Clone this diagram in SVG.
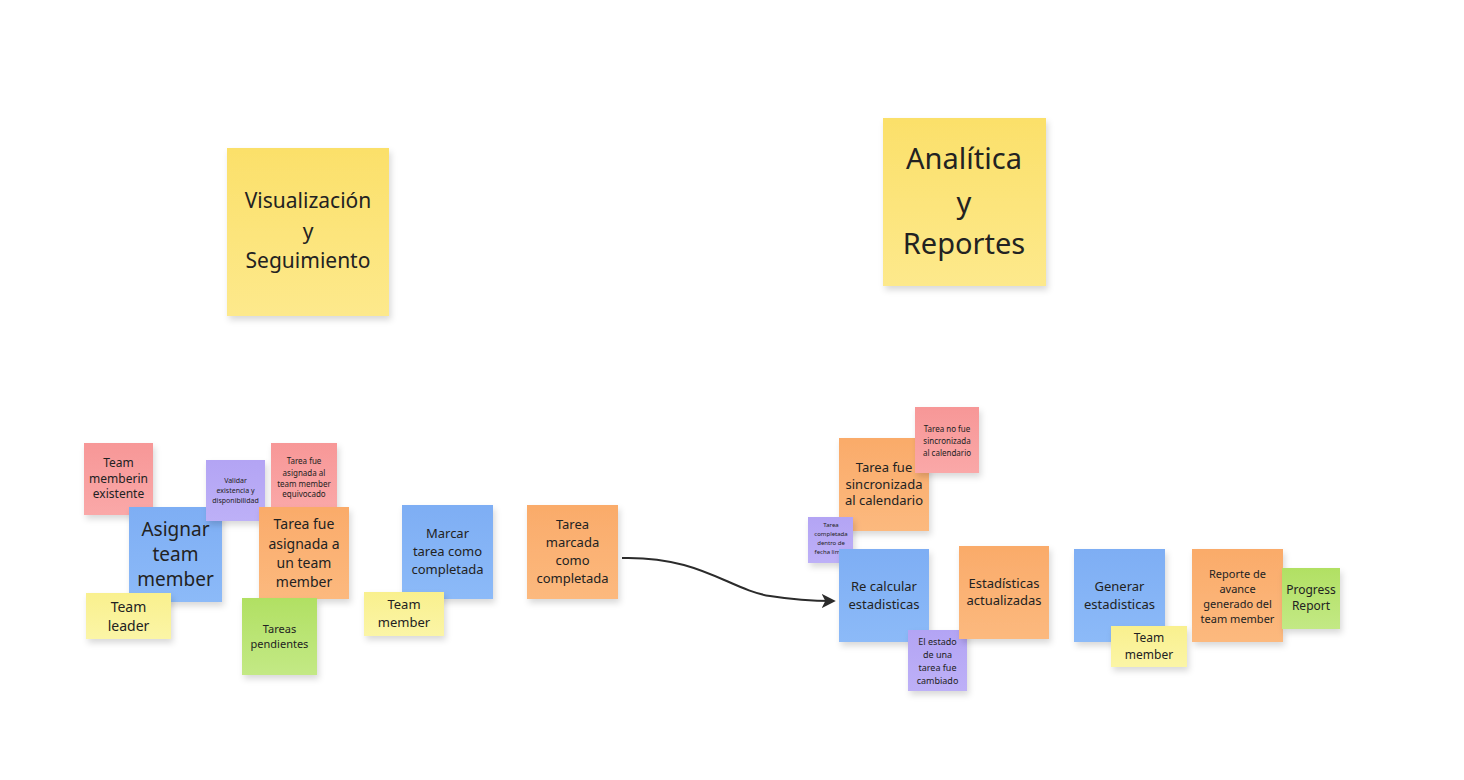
<svg xmlns="http://www.w3.org/2000/svg" width="1464" height="780" viewBox="0 0 1464 780">
<defs>
<linearGradient id="gY" x1="0" y1="0" x2="0" y2="1"><stop offset="0" stop-color="#fbe06a"/><stop offset="1" stop-color="#fde98c"/></linearGradient>
<linearGradient id="gLY" x1="0" y1="0" x2="0" y2="1"><stop offset="0" stop-color="#f9f08e"/><stop offset="1" stop-color="#fbf5a6"/></linearGradient>
<linearGradient id="gR" x1="0" y1="0" x2="0" y2="1"><stop offset="0" stop-color="#f79797"/><stop offset="1" stop-color="#faa8a8"/></linearGradient>
<linearGradient id="gB" x1="0" y1="0" x2="0" y2="1"><stop offset="0" stop-color="#7eaef4"/><stop offset="1" stop-color="#8cbaf8"/></linearGradient>
<linearGradient id="gP" x1="0" y1="0" x2="0" y2="1"><stop offset="0" stop-color="#b3a4f4"/><stop offset="1" stop-color="#bdb0f7"/></linearGradient>
<linearGradient id="gO" x1="0" y1="0" x2="0" y2="1"><stop offset="0" stop-color="#faab6a"/><stop offset="1" stop-color="#fcb97e"/></linearGradient>
<linearGradient id="gG" x1="0" y1="0" x2="0" y2="1"><stop offset="0" stop-color="#b1e063"/><stop offset="1" stop-color="#c3e985"/></linearGradient>
<filter id="sh" x="-20%" y="-20%" width="150%" height="150%"><feDropShadow dx="2" dy="4" stdDeviation="3" flood-color="#000" flood-opacity="0.15"/></filter>
<marker id="arr" viewBox="0 0 10 10" refX="8" refY="5" markerWidth="7" markerHeight="7" orient="auto" markerUnits="strokeWidth"><path d="M0,0 L10,5 L0,10 L2.5,5 z" fill="#2b2b2b"/></marker>
</defs>
<style>
text{font-family:"Noto Sans","Open Sans","DejaVu Sans",sans-serif;fill:#222222;text-anchor:middle;dominant-baseline:central}
rect{filter:url(#sh)}
.y{fill:url(#gY)}.ly{fill:url(#gLY)}.r{fill:url(#gR)}.b{fill:url(#gB)}.p{fill:url(#gP)}.o{fill:url(#gO)}.g{fill:url(#gG)}
</style>
<rect width="1464" height="780" fill="#ffffff" style="filter:none"/>

<g id="n-visualizacion"><rect class="y" x="227" y="148" width="162" height="168"/>
<text font-size="21"><tspan x="308" y="200">Visualización</tspan><tspan x="308" y="231">y</tspan><tspan x="308" y="260">Seguimiento</tspan></text></g>

<g id="n-analitica"><rect class="y" x="883" y="118" width="163" height="168"/>
<text font-size="29"><tspan x="964" y="157">Analítica</tspan><tspan x="964" y="201">y</tspan><tspan x="964" y="242">Reportes</tspan></text></g>

<g id="n-memberin"><rect class="r" x="84" y="443" width="69" height="72"/>
<text font-size="12"><tspan x="118.5" y="462">Team</tspan><tspan x="118.5" y="478">memberin</tspan><tspan x="118.5" y="493">existente</tspan></text></g>

<g id="n-asignar"><rect class="b" x="129" y="507" width="93" height="95"/>
<text font-size="19"><tspan x="175.5" y="529">Asignar</tspan><tspan x="175.5" y="554">team</tspan><tspan x="175.5" y="579">member</tspan></text></g>

<g id="n-validar"><rect class="p" x="206" y="460" width="59" height="61"/>
<text font-size="7"><tspan x="235.5" y="480">Validar</tspan><tspan x="235.5" y="490">existencia y</tspan><tspan x="235.5" y="500">disponibilidad</tspan></text></g>

<g id="n-equivocado"><rect class="r" x="271" y="443" width="66" height="67"/>
<text font-size="8"><tspan x="304" y="460">Tarea  fue</tspan><tspan x="304" y="472">asignada al</tspan><tspan x="304" y="483">team member</tspan><tspan x="304" y="493">equivocado</tspan></text></g>

<g id="n-asignada"><rect class="o" x="259" y="507" width="90" height="92"/>
<text font-size="14"><tspan x="304" y="523">Tarea fue</tspan><tspan x="304" y="543">asignada a</tspan><tspan x="304" y="562">un team</tspan><tspan x="304" y="581">member</tspan></text></g>

<g id="n-leader"><rect class="ly" x="86" y="593" width="85" height="46"/>
<text font-size="14"><tspan x="128.5" y="606">Team</tspan><tspan x="128.5" y="625">leader</tspan></text></g>

<g id="n-pendientes"><rect class="g" x="242" y="598" width="75" height="77"/>
<text font-size="11"><tspan x="279.5" y="628">Tareas</tspan><tspan x="279.5" y="643">pendientes</tspan></text></g>

<g id="n-marcar"><rect class="b" x="402" y="505" width="91" height="94"/>
<text font-size="13"><tspan x="447.5" y="533">Marcar</tspan><tspan x="447.5" y="551">tarea como</tspan><tspan x="447.5" y="569">completada</tspan></text></g>

<g id="n-member1"><rect class="ly" x="364" y="592" width="80" height="44"/>
<text font-size="13"><tspan x="404" y="604">Team</tspan><tspan x="404" y="622">member</tspan></text></g>

<g id="n-marcada"><rect class="o" x="527" y="505" width="91" height="94"/>
<text font-size="13"><tspan x="572.5" y="524">Tarea</tspan><tspan x="572.5" y="542">marcada</tspan><tspan x="572.5" y="560">como</tspan><tspan x="572.5" y="578">completada</tspan></text></g>

<g id="n-sincronizada"><rect class="o" x="839" y="438" width="90" height="93"/>
<text font-size="13"><tspan x="884" y="467">Tarea fue</tspan><tspan x="884" y="484">sincronizada</tspan><tspan x="884" y="500">al calendario</tspan></text></g>

<g id="n-nosincronizada"><rect class="r" x="915" y="407" width="64" height="66"/>
<text font-size="8"><tspan x="947" y="428">Tarea no fue</tspan><tspan x="947" y="440">sincronizada</tspan><tspan x="947" y="452">al calendario</tspan></text></g>

<g id="n-fechalimite"><rect class="p" x="808" y="517" width="45" height="46"/>
<text font-size="6"><tspan x="831" y="525">Tarea</tspan><tspan x="831" y="534">completada</tspan><tspan x="831" y="543">dentro de</tspan><tspan x="831" y="552">fecha limite</tspan></text></g>

<g id="n-recalcular"><rect class="b" x="839" y="549" width="90" height="93"/>
<text font-size="13"><tspan x="884" y="586">Re calcular</tspan><tspan x="884" y="604">estadisticas</tspan></text></g>

<g id="n-estado"><rect class="p" x="908" y="630" width="59" height="61"/>
<text font-size="9"><tspan x="937.5" y="641">El estado</tspan><tspan x="937.5" y="654">de una</tspan><tspan x="937.5" y="667">tarea fue</tspan><tspan x="937.5" y="680">cambiado</tspan></text></g>

<g id="n-actualizadas"><rect class="o" x="959" y="546" width="90" height="93"/>
<text font-size="13"><tspan x="1004" y="583">Estadísticas</tspan><tspan x="1004" y="600">actualizadas</tspan></text></g>

<g id="n-generar"><rect class="b" x="1074" y="549" width="91" height="93"/>
<text font-size="13"><tspan x="1119.5" y="586">Generar</tspan><tspan x="1119.5" y="604">estadisticas</tspan></text></g>

<g id="n-member2"><rect class="ly" x="1111" y="626" width="76" height="41"/>
<text font-size="12"><tspan x="1149" y="637">Team</tspan><tspan x="1149" y="654">member</tspan></text></g>

<g id="n-reporte"><rect class="o" x="1192" y="549" width="91" height="93"/>
<text font-size="11"><tspan x="1237.5" y="573">Reporte  de</tspan><tspan x="1237.5" y="588">avance</tspan><tspan x="1237.5" y="603">generado del</tspan><tspan x="1237.5" y="618">team member</tspan></text></g>

<g id="n-progress"><rect class="g" x="1282" y="568" width="58" height="61"/>
<text font-size="12"><tspan x="1311" y="589">Progress</tspan><tspan x="1311" y="605">Report</tspan></text></g>

<g id="connectors">
<path d="M622,558 C700,556 730,590 770,596 C795,600 815,601 833,601" fill="none" stroke="#2b2b2b" stroke-width="2" marker-end="url(#arr)"/>
</g>
</svg>
